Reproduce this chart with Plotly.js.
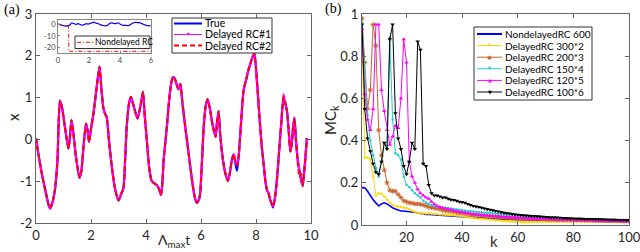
<!DOCTYPE html>
<html><head><meta charset="utf-8">
<script src="https://cdn.plot.ly/plotly-3.0.1.min.js"></script>
<style>html,body{margin:0;padding:0;background:#fff;}#chart{width:640px;height:252px;}</style>
</head><body><div id="chart"></div>
<script>
// ---------- panel (a): time series ----------
const tA = [0,0.1,0.25,0.35,0.45,0.51,0.58,0.69,0.78,0.82,0.87,0.95,1.05,1.18,1.24,1.29,1.35,1.45,1.58,1.65,1.75,1.82,1.88,1.93,2.0,2.09,2.21,2.31,2.38,2.45,2.52,2.57,2.65,2.76,2.88,3.0,3.1,3.18,3.24,3.3,3.38,3.45,3.55,3.69,3.8,3.89,3.95,4.03,4.12,4.21,4.3,4.4,4.48,4.55,4.6,4.64,4.7,4.76,4.85,4.92,4.98,5.05,5.12,5.18,5.25,5.32,5.4,5.49,5.6,5.7,5.78,5.85,5.92,5.97,6.03,6.1,6.17,6.24,6.32,6.42,6.53,6.58,6.64,6.7,6.8,6.9,6.98,7.05,7.12,7.19,7.25,7.31,7.37,7.43,7.55,7.65,7.72,7.8,7.88,7.94,8.0,8.1,8.2,8.28,8.34,8.4,8.46,8.52,8.62,8.7,8.77,8.85,8.92,9.0,9.05,9.13,9.2,9.25,9.3,9.35,9.4,9.45,9.52,9.58,9.65,9.7,9.75,9.8,9.85];
const xTrue = [0.03,-0.4,-0.95,-1.25,-1.55,-1.65,-1.55,-1.2,-0.5,0.3,
0.93,0.75,0.3,-0.22,0.1,0.46,0.2,-0.4,-0.92,-0.75,
0.0,0.38,0.2,-0.06,0.25,0.62,1.26,1.74,1.2,0.75,
0.6,0.54,0.0,-0.67,-1.2,-1.46,-1.3,-1.17,-0.5,0.31,
0.85,1.02,0.8,0.5,0.8,1.14,0.6,-0.02,-0.7,-1.0,
-1.05,-1.1,-1.2,-1.33,-1.0,-0.5,-0.1,0.31,1.0,1.35,
1.49,1.45,1.3,1.2,1.33,0.9,0.45,-0.02,-0.6,-1.1,
-1.4,-1.52,-1.45,-1.29,-0.6,0.31,0.8,0.96,0.75,0.35,
0.06,0.4,0.68,0.1,-0.5,-0.85,-0.99,-0.8,-0.5,-0.36,
-0.57,-0.75,-0.4,0.14,1.18,1.45,1.65,1.82,1.98,2.06,
1.7,0.78,-0.1,-0.6,-0.99,-1.21,-1.3,-1.45,-1.63,-1.35,
-0.89,-0.2,0.4,0.95,0.9,0.66,0.1,-0.29,-0.1,0.3,
0.52,0.0,-0.5,-0.75,-1.0,-1.1,-0.8,-0.4,0.03];
const xRC1 = [0.03,-0.4,-0.95,-1.25,-1.55,-1.65,-1.55,-1.2,-0.5,0.3,
0.93,0.75,0.3,-0.22,0.1,0.46,0.2,-0.4,-0.92,-0.75,
0.0,0.38,0.2,-0.06,0.25,0.62,1.26,1.74,1.2,0.75,
0.6,0.54,0.0,-0.67,-1.2,-1.46,-1.3,-1.17,-0.5,0.31,
0.85,1.02,0.8,0.5,0.8,1.14,0.6,-0.02,-0.7,-1.0,
-1.05,-1.1,-1.2,-1.33,-1.0,-0.5,-0.1,0.31,1.0,1.35,
1.49,1.45,1.3,1.2,1.33,0.9,0.45,-0.02,-0.6,-1.1,
-1.4,-1.52,-1.45,-1.29,-0.6,0.31,0.8,0.96,0.75,0.35,
0.06,0.4,0.68,0.1,-0.5,-0.85,-0.99,-0.8,-0.5,-0.36,
-0.52,-0.62,-0.4,0.14,1.18,1.45,1.65,1.82,1.98,2.06,
1.7,0.78,-0.1,-0.6,-0.99,-1.21,-1.3,-1.45,-1.6,-1.35,
-0.89,-0.2,0.4,1.08,0.9,0.66,0.1,-0.29,-0.1,0.3,
0.52,0.0,-0.5,-0.75,-1.0,-1.1,-0.8,-0.4,0.03];
const xRC2 = [0.03,-0.4,-0.95,-1.25,-1.55,-1.65,-1.55,-1.2,-0.5,0.3,
0.93,0.75,0.3,-0.22,0.1,0.46,0.2,-0.4,-0.92,-0.75,
0.0,0.38,0.2,-0.06,0.25,0.62,1.26,1.74,1.2,0.75,
0.6,0.54,0.0,-0.67,-1.2,-1.46,-1.3,-1.17,-0.5,0.31,
0.85,1.02,0.8,0.5,0.8,1.14,0.6,-0.02,-0.7,-1.0,
-1.05,-1.1,-1.2,-1.33,-1.0,-0.5,-0.1,0.31,1.0,1.35,
1.49,1.45,1.3,1.2,1.33,0.9,0.45,-0.02,-0.6,-1.1,
-1.4,-1.52,-1.45,-1.29,-0.6,0.31,0.8,0.96,0.75,0.35,
0.06,0.4,0.68,0.1,-0.5,-0.85,-0.99,-0.8,-0.5,-0.36,
-0.52,-0.62,-0.4,0.14,1.18,1.45,1.65,1.82,1.98,2.06,
1.7,0.78,-0.1,-0.6,-0.99,-1.21,-1.3,-1.45,-1.6,-1.35,
-0.89,-0.2,0.4,1.02,0.9,0.66,0.1,-0.29,-0.1,0.3,
0.5,0.05,-0.6,-0.9,-0.82,-1.13,-0.78,-0.45,0.03];
// inset: nondelayed RC diverges
const tND = [0,0.2,0.4,0.55,0.68,0.7,1.5,3,4.5,6];
const xND = [0,-0.5,-1.2,-1.8,-2.0,-23,-23.1,-23,-23.1,-23];

// ---------- panel (b): memory capacity ----------
const kLag = [4,5,6,7,8,9,10,11,12,13,14,15,16,17,18,19,20,21,22,23,24,25,26,27,28,29,30,31,32,33,34,35,36,37,38,39,40,41,42,43,44,45,46,47,48,49,50,51,52,53,54,55,56,57,58,59,60,61,62,63,64,65,66,67,68,69,70,71,72,73,74,75,76,77,78,79,80,81,82,83,84,85,86,87,88,89,90,91,92,93,94,95,96,97,98,99,100];
const mcND600 = [0.177,0.176,0.16,0.137,0.12,0.105,0.09,0.1,0.105,0.1,
0.09,0.082,0.076,0.07,0.066,0.066,0.065,0.063,0.062,0.06,
0.058,0.055,0.052,0.05,0.05,0.049,0.048,0.047,0.047,0.046,
0.045,0.044,0.044,0.043,0.042,0.04,0.039,0.038,0.037,0.036,
0.035,0.034,0.033,0.032,0.031,0.03,0.03,0.029,0.029,0.028,
0.028,0.027,0.027,0.026,0.026,0.025,0.025,0.025,0.024,0.024,
0.024,0.023,0.023,0.022,0.022,0.022,0.021,0.022,0.021,0.021,
0.021,0.02,0.02,0.02,0.019,0.02,0.02,0.019,0.019,0.018,
0.019,0.018,0.018,0.017,0.018,0.017,0.016,0.015,0.014,0.016,
0.015,0.016,0.017,0.016,0.016,0.015,0.016];
const mcD300x2 = [0.87,0.32,0.32,0.31,0.23,0.14,0.15,0.148,0.135,0.12,
0.105,0.095,0.09,0.088,0.085,0.082,0.08,0.075,0.068,0.062,
0.058,0.056,0.055,0.055,0.056,0.054,0.052,0.052,0.05,0.05,
0.05,0.048,0.047,0.046,0.045,0.044,0.042,0.04,0.037,0.035,
0.033,0.032,0.03,0.03,0.028,0.027,0.026,0.024,0.022,0.021,
0.02,0.019,0.018,0.017,0.016,0.015,0.015,0.014,0.013,0.012,
0.013,0.014,0.015,0.014,0.015,0.016,0.015,0.015,0.016,0.015,
0.015,0.016,0.015,0.016,0.017,0.016,0.016,0.017,0.016,0.016,
0.017,0.016,0.016,0.017,0.016,0.015,0.016,0.015,0.016,0.015,
0.016,0.015,0.015,0.016,0.015,0.015,0.015];
const mcD200x3 = [0.98,0.77,0.55,0.64,0.95,0.85,0.45,0.33,0.26,0.2,
0.165,0.16,0.16,0.145,0.13,0.115,0.11,0.105,0.104,0.1,
0.1,0.098,0.095,0.09,0.085,0.082,0.08,0.078,0.075,0.07,
0.068,0.066,0.064,0.062,0.06,0.058,0.056,0.054,0.052,0.05,
0.048,0.047,0.046,0.045,0.044,0.042,0.041,0.04,0.039,0.038,
0.036,0.035,0.034,0.034,0.033,0.032,0.031,0.031,0.03,0.03,
0.029,0.029,0.028,0.028,0.028,0.027,0.027,0.026,0.026,0.026,
0.025,0.025,0.025,0.024,0.024,0.024,0.024,0.023,0.025,0.023,
0.023,0.022,0.022,0.022,0.021,0.021,0.021,0.02,0.02,0.02,
0.02,0.02,0.019,0.019,0.019,0.019,0.018];
const mcD150x4 = [0.96,0.72,0.52,0.4,0.33,0.27,0.23,0.3,0.39,0.37,
0.89,0.5,0.34,0.33,0.31,0.23,0.19,0.18,0.165,0.15,
0.14,0.13,0.115,0.105,0.1,0.095,0.09,0.088,0.085,0.083,
0.082,0.08,0.078,0.076,0.074,0.072,0.07,0.068,0.066,0.065,
0.064,0.062,0.061,0.06,0.058,0.057,0.056,0.055,0.053,0.052,
0.05,0.049,0.048,0.047,0.046,0.045,0.044,0.043,0.042,0.041,
0.04,0.039,0.038,0.037,0.036,0.035,0.035,0.034,0.033,0.033,
0.032,0.031,0.031,0.03,0.03,0.029,0.029,0.028,0.028,0.027,
0.027,0.026,0.026,0.025,0.025,0.025,0.024,0.024,0.023,0.023,
0.023,0.022,0.022,0.022,0.021,0.021,0.021];
const mcD120x5 = [0.93,0.62,0.5,0.45,0.55,0.95,0.95,0.64,0.54,0.45,
0.38,0.42,0.47,0.46,0.6,0.88,0.77,0.3,0.23,0.2,
0.17,0.15,0.14,0.13,0.125,0.11,0.1,0.09,0.085,0.08,
0.078,0.075,0.072,0.068,0.065,0.062,0.06,0.058,0.056,0.054,
0.052,0.05,0.049,0.048,0.046,0.045,0.044,0.043,0.042,0.041,
0.04,0.039,0.038,0.037,0.036,0.035,0.034,0.034,0.033,0.032,
0.031,0.031,0.03,0.03,0.029,0.029,0.028,0.028,0.027,0.027,
0.026,0.026,0.025,0.025,0.025,0.024,0.024,0.023,0.023,0.023,
0.022,0.022,0.022,0.021,0.021,0.021,0.02,0.02,0.02,0.019,
0.019,0.019,0.019,0.018,0.018,0.018,0.018];
const mcD100x6 = [0.95,0.55,0.41,0.35,0.29,0.25,0.24,0.3,0.39,0.36,
0.88,0.95,0.53,0.41,0.36,0.28,0.24,0.3,0.39,0.36,
0.87,0.83,0.29,0.28,0.19,0.15,0.14,0.14,0.135,0.13,
0.13,0.125,0.12,0.118,0.115,0.11,0.108,0.105,0.1,0.095,
0.09,0.088,0.085,0.082,0.078,0.075,0.072,0.07,0.066,0.064,
0.06,0.058,0.056,0.054,0.052,0.05,0.048,0.047,0.046,0.045,
0.044,0.043,0.042,0.041,0.04,0.039,0.038,0.037,0.036,0.035,
0.035,0.034,0.033,0.033,0.032,0.031,0.031,0.03,0.03,0.03,
0.029,0.029,0.028,0.028,0.027,0.027,0.027,0.026,0.026,0.025,
0.025,0.025,0.024,0.024,0.024,0.023,0.023];

const seriesA = ['True','Delayed RC#1','Delayed RC#2'];
const seriesB = ['NondelayedRC 600','DelayedRC 300*2','DelayedRC 200*3','DelayedRC 150*4','DelayedRC 120*5','DelayedRC 100*6'];

const C = {blue:'#0000FF', mag:'#FF00FF', red:'#FF0000', yel:'#FFD700', brn:'#C8642A', cyn:'#22CCCC', blk:'#000000'};
const FONT = 'Lato, "Open Sans", sans-serif';

// layout helpers (pixel -> paper), margins l=36 r=11 t=14 b=27
const L=36, R=11, T=14, B=27, W=640, H=252;
const PW=W-L-R, PH=H-T-B;
const px=v=>(v-L)/PW, py=v=>(H-B-v)/PH;

const tIn=[], xIn=[];
tA.forEach((t,i)=>{ if(t<=6){ tIn.push(t); xIn.push(xTrue[i]); } });

const traces = [
  {x:tA, y:xTrue, name:seriesA[0], xaxis:'x', yaxis:'y', mode:'lines', line:{color:C.blue, width:2.2, shape:'spline', smoothing:0.6}},
  {x:tA, y:xRC1, name:seriesA[1], xaxis:'x', yaxis:'y', mode:'lines', line:{color:C.mag, width:2.2, shape:'spline', smoothing:0.6}},
  {x:tA, y:xRC2, name:seriesA[2], xaxis:'x', yaxis:'y', mode:'lines', line:{color:C.red, width:1.8, dash:'5px,3px', shape:'spline', smoothing:0.6}},
  {x:tIn, y:xIn, name:'True (inset)', xaxis:'x3', yaxis:'y3', mode:'lines', line:{color:C.blue, width:1.2, shape:'spline'}},
  {x:tND, y:xND, name:'Nondelayed RC', xaxis:'x3', yaxis:'y3', mode:'lines', line:{color:C.red, width:1, dash:'4px,2px,1px,2px'}},
  {x:kLag, y:mcND600, name:seriesB[0], xaxis:'x2', yaxis:'y2', mode:'lines', line:{color:C.blue, width:1.6}},
  {x:kLag, y:mcD300x2, name:seriesB[1], xaxis:'x2', yaxis:'y2', mode:'lines+markers', line:{color:C.yel, width:1}, marker:{symbol:'circle', size:2.5, color:C.yel}},
  {x:kLag, y:mcD200x3, name:seriesB[2], xaxis:'x2', yaxis:'y2', mode:'lines+markers', line:{color:C.brn, width:1}, marker:{symbol:'asterisk-open', size:4, line:{color:C.brn, width:1}}},
  {x:kLag, y:mcD150x4, name:seriesB[3], xaxis:'x2', yaxis:'y2', mode:'lines+markers', line:{color:C.cyn, width:1}, marker:{symbol:'circle', size:2.5, color:C.cyn}},
  {x:kLag, y:mcD120x5, name:seriesB[4], xaxis:'x2', yaxis:'y2', mode:'lines+markers', line:{color:C.mag, width:1}, marker:{symbol:'triangle-up', size:4, color:C.mag}},
  {x:kLag, y:mcD100x6, name:seriesB[5], xaxis:'x2', yaxis:'y2', mode:'lines+markers', line:{color:C.blk, width:1}, marker:{symbol:'triangle-down', size:4, color:C.blk}}
];

const axBase = {showgrid:false, zeroline:false, showline:true, linecolor:'#666', linewidth:1, mirror:'ticks',
  ticks:'inside', ticklen:4, tickcolor:'#666', ticklabeloverflow:'allow', tickfont:{family:FONT, size:13, color:'#262626'}};

const shapes = [], ann = [];
function legendBox(x0,y0,x1,y1){ shapes.push({type:'rect', xref:'paper', yref:'paper', x0:px(x0), x1:px(x1), y0:py(y0), y1:py(y1), line:{color:'#333', width:1}, fillcolor:'#fff', layer:'above'}); }
function legendLine(x0,x1,y,color,width,dash){ shapes.push({type:'line', xref:'paper', yref:'paper', x0:px(x0), x1:px(x1), y0:py(y), y1:py(y), line:{color:color, width:width, dash:dash||'solid'}, layer:'above'}); }
function legendText(x,y,txt,size){ ann.push({xref:'paper', yref:'paper', x:px(x), y:py(y), text:txt, showarrow:false, xanchor:'left', yanchor:'middle', font:{family:FONT, size:size, color:'#000'}}); }
function legendGlyph(x,y,g,color,size){ ann.push({xref:'paper', yref:'paper', x:px(x), y:py(y), text:g, showarrow:false, xanchor:'center', yanchor:'middle', font:{family:'DejaVu Sans', size:size, color:color}}); }

// legend (a)
legendBox(172,18,272,53);
legendLine(174,202,23.5,C.blue,2);
legendLine(174,202,34.5,C.mag,1);
legendGlyph(188,34.5,'•',C.mag,8);
legendLine(174,202,45.5,C.red,2,'5px,3px');
legendText(203,23.5,seriesA[0],10.5);
legendText(203,34.5,seriesA[1],10.5);
legendText(203,45.5,seriesA[2],10.5);
// inset legend
legendBox(75,36,150,48.5);
legendLine(77,93,42.3,C.red,1,'4px,2px,1px,2px');
legendText(93,42.3,'Nondelayed RC',8.5);
// legend (b)
legendBox(474,27,592,100);
const rowsB=[34,45.6,57.2,68.8,80.4,92];
const colB=[C.blue,C.yel,C.brn,C.cyn,C.mag,C.blk];
const glyB=[null,'•','✱','•','▲','▼'];
const gsz=[0,8,6,8,5,5];
rowsB.forEach((y,i)=>{
  legendLine(477,502,y,colB[i],i===0?2:1);
  if(glyB[i]) legendGlyph(489.5,y,glyB[i],colB[i],gsz[i]);
  legendText(503,y,seriesB[i],10);
});

// axis titles & panel labels
ann.push({xref:'paper', yref:'paper', x:px(13), y:py(117), text:'x', textangle:-90, showarrow:false, xanchor:'center', yanchor:'middle', font:{family:FONT, size:15, color:'#262626'}});
ann.push({xref:'paper', yref:'paper', x:px(174), y:py(251), text:'Λ<sub>max</sub>t', showarrow:false, xanchor:'center', yanchor:'bottom', borderpad:0, font:{family:FONT, size:14, color:'#262626'}});
ann.push({xref:'paper', yref:'paper', x:px(494), y:py(251), text:'k', showarrow:false, xanchor:'center', yanchor:'bottom', borderpad:0, font:{family:FONT, size:15, color:'#262626'}});
ann.push({xref:'paper', yref:'paper', x:px(331), y:py(120), text:'MC<sub>k</sub>', textangle:-90, showarrow:false, xanchor:'center', yanchor:'middle', font:{family:FONT, size:15, color:'#262626'}});
ann.push({xref:'paper', yref:'paper', x:px(12), y:py(10), text:'(a)', showarrow:false, xanchor:'center', yanchor:'middle', font:{family:'Liberation Serif', size:14, color:'#000'}});
ann.push({xref:'paper', yref:'paper', x:px(333), y:py(9), text:'(b)', showarrow:false, xanchor:'center', yanchor:'middle', font:{family:'Liberation Serif', size:14, color:'#000'}});

const layout = {
  width:W, height:H, autosize:false, showlegend:false,
  margin:{l:L, r:R, t:T, b:B, pad:0},
  paper_bgcolor:'#fff', plot_bgcolor:'#fff',
  font:{family:FONT, color:'#262626'},
  xaxis: Object.assign({}, axBase, {domain:[0, px(311)], range:[0,10], tickvals:[0,2,4,6,8,10], anchor:'y'}),
  yaxis: Object.assign({}, axBase, {domain:[py(223), 1], range:[-2,3], tickvals:[-2,-1,0,1,2,3], ticktext:['-2','-1','0','1','2','3'], anchor:'x'}),
  xaxis2: Object.assign({}, axBase, {domain:[px(362), 1], range:[4,100], tickvals:[20,40,60,80,100], ticktext:['20','40','60','80','100'], anchor:'y2'}),
  yaxis2: Object.assign({}, axBase, {domain:[0, 1], range:[0,1], tickvals:[0,0.2,0.4,0.6,0.8,1], ticktext:['0','0.2','0.4','0.6','0.8','1'], anchor:'x2'}),
  xaxis3: Object.assign({}, axBase, {domain:[px(58), px(151)], range:[0,6], tickvals:[0,2,4,6], ticklen:2, mirror:true, linecolor:'#888', tickcolor:'#888', tickfont:{family:FONT, size:7.5, color:'#444'}, anchor:'y3'}),
  yaxis3: Object.assign({}, axBase, {domain:[py(53), py(20)], range:[-24.5,3.5], tickvals:[-20,-10,0], ticktext:['-20','-10','0'], ticklen:2, mirror:true, linecolor:'#888', tickcolor:'#888', tickfont:{family:FONT, size:7.5, color:'#444'}, anchor:'x3'}),
  shapes: shapes, annotations: ann
};

Plotly.newPlot('chart', traces, layout, {displayModeBar:false, staticPlot:true});
</script>
</body></html>
